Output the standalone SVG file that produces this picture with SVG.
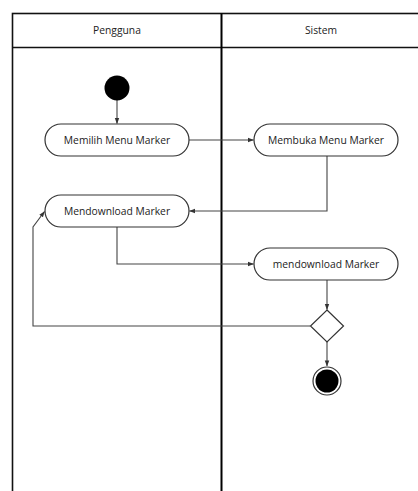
<svg xmlns="http://www.w3.org/2000/svg" width="418" height="491" viewBox="0 0 418 491">
  <style>
    .lane { fill: none; stroke: #111; stroke-width: 1.6; }
    .divider { fill: none; stroke: #000; stroke-width: 2; }
    .act { fill: #fff; stroke: #333; stroke-width: 1.2; }
    .lbl { font-family: "Open Sans", "Liberation Sans", sans-serif; font-size: 10.3px; fill: #222; text-anchor: middle; dominant-baseline: central; }
    .edge { fill: none; stroke: #444; stroke-width: 1.1; marker-end: url(#arrow); }
  </style>
  <defs>
    <marker id="arrow" viewBox="0 0 8 8" refX="7.5" refY="4" markerWidth="6" markerHeight="6" markerUnits="userSpaceOnUse" orient="auto">
      <path d="M0,1 L8,4 L0,7 Z" fill="#333"/>
    </marker>
  </defs>
  <rect width="418" height="491" fill="#fff"/>

  <!-- swimlanes -->
  <g id="lanes">
    <rect class="lane" x="12.5" y="13.5" width="410" height="490"/>
    <line class="lane" x1="12.5" y1="47.5" x2="422" y2="47.5"/>
    <line class="divider" x1="221.5" y1="13.5" x2="221.5" y2="491"/>
    <text class="lbl" x="117" y="30">Pengguna</text>
    <text class="lbl" x="321" y="30">Sistem</text>
  </g>

  <!-- connectors -->
  <g id="connectors">
    <path class="edge" d="M117,100 L117,123.5"/>
    <path class="edge" d="M189,140 L253.5,140"/>
    <path class="edge" d="M327,156 L327,211 L189.5,211"/>
    <path class="edge" d="M117,227 L117,264 L253.5,264"/>
    <path class="edge" d="M327,280 L327,309.5"/>
    <path class="edge" d="M310,326 L33,326 L33,227 L44.5,211.5"/>
    <path class="edge" d="M327,342 L327,366"/>
  </g>

  <g id="start">
    <circle cx="117" cy="88" r="12.5" fill="#000"/>
  </g>

  <g id="memilih-menu-marker">
    <rect class="act" x="45" y="124" width="144" height="32" rx="16"/>
    <text class="lbl" x="117" y="140">Memilih Menu Marker</text>
  </g>

  <g id="membuka-menu-marker">
    <rect class="act" x="254" y="124" width="144" height="32" rx="16"/>
    <text class="lbl" x="326" y="140">Membuka Menu Marker</text>
  </g>

  <g id="mendownload-marker-user">
    <rect class="act" x="45" y="195" width="144" height="32" rx="16"/>
    <text class="lbl" x="117" y="211">Mendownload Marker</text>
  </g>

  <g id="mendownload-marker-system">
    <rect class="act" x="254" y="248" width="144" height="32" rx="16"/>
    <text class="lbl" x="326" y="264">mendownload Marker</text>
  </g>

  <g id="decision">
    <polygon class="act" points="327,310 343.5,326 327,342 310.5,326"/>
  </g>

  <g id="end">
    <circle cx="327" cy="381" r="14" fill="#fff" stroke="#333" stroke-width="1.2"/>
    <circle cx="327" cy="381" r="11.5" fill="#000"/>
  </g>
</svg>
